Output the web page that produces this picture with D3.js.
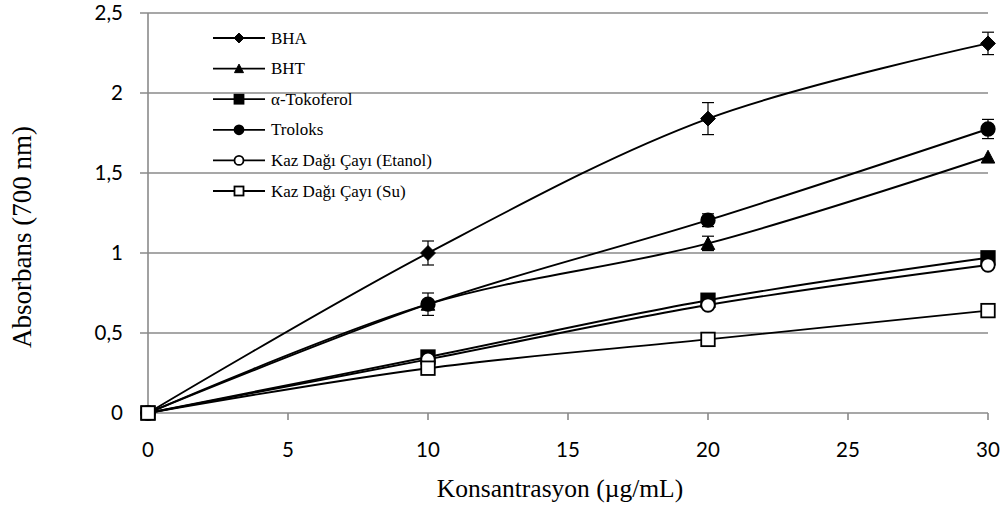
<!DOCTYPE html>
<html><head><meta charset="utf-8">
<script src="https://cdn.jsdelivr.net/npm/d3@7"></script>
<style>body{margin:0;background:#fff}svg{display:block}</style>
</head><body>
<svg id="c" width="1007" height="508"></svg>
<script>
const concentrations = [0, 10, 20, 30];
const seriesNames = ["BHA", "BHT", "α-Tokoferol", "Troloks", "Kaz Dağı Çayı (Etanol)", "Kaz Dağı Çayı (Su)"];
const bhaValues = [0, 1.00, 1.84, 2.31];
const bhaErrors = [0, 0.075, 0.10, 0.07];
const bhtValues = [0, 0.68, 1.06, 1.60];
const bhtErrors = [0, 0, 0.045, 0];
const tokoferolValues = [0, 0.35, 0.705, 0.97];
const tokoferolErrors = [0, 0, 0, 0];
const troloksValues = [0, 0.68, 1.205, 1.775];
const troloksErrors = [0, 0.07, 0.04, 0.06];
const etanolValues = [0, 0.335, 0.675, 0.925];
const etanolErrors = [0, 0, 0, 0];
const suValues = [0, 0.28, 0.46, 0.64];
const suErrors = [0, 0, 0, 0];
const xTicks = [0, 5, 10, 15, 20, 25, 30];
const yTicks = [0, 0.5, 1, 1.5, 2, 2.5];
const yTickLabels = ["0", "0,5", "1", "1,5", "2", "2,5"];
const markerTypes = ["diamond", "triangle", "square", "circle", "circleOpen", "squareOpen"];

const allValues = [bhaValues, bhtValues, tokoferolValues, troloksValues, etanolValues, suValues];
const allErrors = [bhaErrors, bhtErrors, tokoferolErrors, troloksErrors, etanolErrors, suErrors];

const svg = d3.select("#c");
const x = d3.scaleLinear().domain([0, 30]).range([148, 988]);
const y = d3.scaleLinear().domain([0, 2.5]).range([413, 13]);
const gridColor = "#8a8a8a";

svg.append("g").selectAll("line").data(yTicks).join("line")
  .attr("x1", 140).attr("x2", x(30)).attr("y1", d => y(d)).attr("y2", d => y(d))
  .attr("stroke", gridColor).attr("stroke-width", 1.6);
svg.append("line").attr("x1", x(0)).attr("x2", x(0)).attr("y1", y(2.5)).attr("y2", y(0) + 7)
  .attr("stroke", gridColor).attr("stroke-width", 1.6);
svg.append("g").selectAll("line").data(xTicks).join("line")
  .attr("x1", d => x(d)).attr("x2", d => x(d)).attr("y1", y(0)).attr("y2", y(0) + 7)
  .attr("stroke", gridColor).attr("stroke-width", 1.6);

const tickFont = "Lato, 'Open Sans', sans-serif";
svg.append("g").selectAll("text").data(yTicks).join("text")
  .attr("x", 123).attr("y", d => y(d)).attr("dy", "0.36em")
  .attr("text-anchor", "end").attr("font-family", tickFont).attr("font-size", 20.5)
  .attr("fill", "#000").text((d, i) => yTickLabels[i]);
svg.append("g").selectAll("text").data(xTicks).join("text")
  .attr("x", d => x(d)).attr("y", 457)
  .attr("text-anchor", "middle").attr("font-family", tickFont).attr("font-size", 20.5)
  .attr("fill", "#000").text(d => d);

const serif = "'Liberation Serif', 'Times New Roman', serif";
svg.append("text").attr("x", 560).attr("y", 497).attr("text-anchor", "middle")
  .attr("font-family", serif).attr("font-size", 25.5).text("Konsantrasyon (µg/mL)");
svg.append("text").attr("transform", "translate(31,237) rotate(-90)").attr("text-anchor", "middle")
  .attr("font-family", serif).attr("font-size", 27).text("Absorbans (700 nm)");

function drawMarker(g, type, cx, cy, s) {
  const h = s / 2;
  if (type === "diamond") {
    const r = h * 1.1;
    g.append("path").attr("d", `M${cx},${cy - r}L${cx + r},${cy}L${cx},${cy + r}L${cx - r},${cy}Z`)
      .attr("fill", "#000").attr("stroke", "#000").attr("stroke-width", 1);
  } else if (type === "triangle") {
    g.append("path").attr("d", `M${cx},${cy - h}L${cx + h},${cy + h * 0.9}L${cx - h},${cy + h * 0.9}Z`)
      .attr("fill", "#000").attr("stroke", "#000").attr("stroke-width", 1);
  } else if (type === "square" || type === "squareOpen") {
    g.append("rect").attr("x", cx - h).attr("y", cy - h).attr("width", s).attr("height", s)
      .attr("fill", type === "square" ? "#000" : "#fff").attr("stroke", "#000").attr("stroke-width", 1.8);
  } else {
    g.append("circle").attr("cx", cx).attr("cy", cy).attr("r", h)
      .attr("fill", type === "circle" ? "#000" : "#fff").attr("stroke", "#000").attr("stroke-width", 1.8);
  }
}

const line = d3.line().x((d, i) => x(concentrations[i])).y(d => y(d)).curve(d3.curveCatmullRom.alpha(0.5));

allValues.forEach((vals, si) => {
  const g = svg.append("g");
  g.append("path").attr("d", line(vals)).attr("fill", "none").attr("stroke", "#000").attr("stroke-width", 1.9);
  vals.forEach((v, i) => {
    const e = allErrors[si][i];
    if (e > 0) {
      const cx = x(concentrations[i]);
      g.append("line").attr("x1", cx).attr("x2", cx).attr("y1", y(v + e)).attr("y2", y(v - e)).attr("stroke", "#000").attr("stroke-width", 1.2);
      [v + e, v - e].forEach(ev => g.append("line").attr("x1", cx - 6).attr("x2", cx + 6).attr("y1", y(ev)).attr("y2", y(ev)).attr("stroke", "#000").attr("stroke-width", 1.2));
    }
  });
  vals.forEach((v, i) => drawMarker(g, markerTypes[si], x(concentrations[i]), y(v), 13.5));
});

const legY0 = 38, legStep = 30.6;
seriesNames.forEach((name, i) => {
  const g = svg.append("g");
  const ly = legY0 + i * legStep;
  g.append("line").attr("x1", 213).attr("x2", 265).attr("y1", ly).attr("y2", ly).attr("stroke", "#000").attr("stroke-width", 1.8);
  drawMarker(g, markerTypes[i], 239, ly, 9);
  g.append("text").attr("x", 271).attr("y", ly).attr("dy", "0.33em").attr("font-family", serif)
    .attr("font-size", 17).text(name);
});
</script>
</body></html>
